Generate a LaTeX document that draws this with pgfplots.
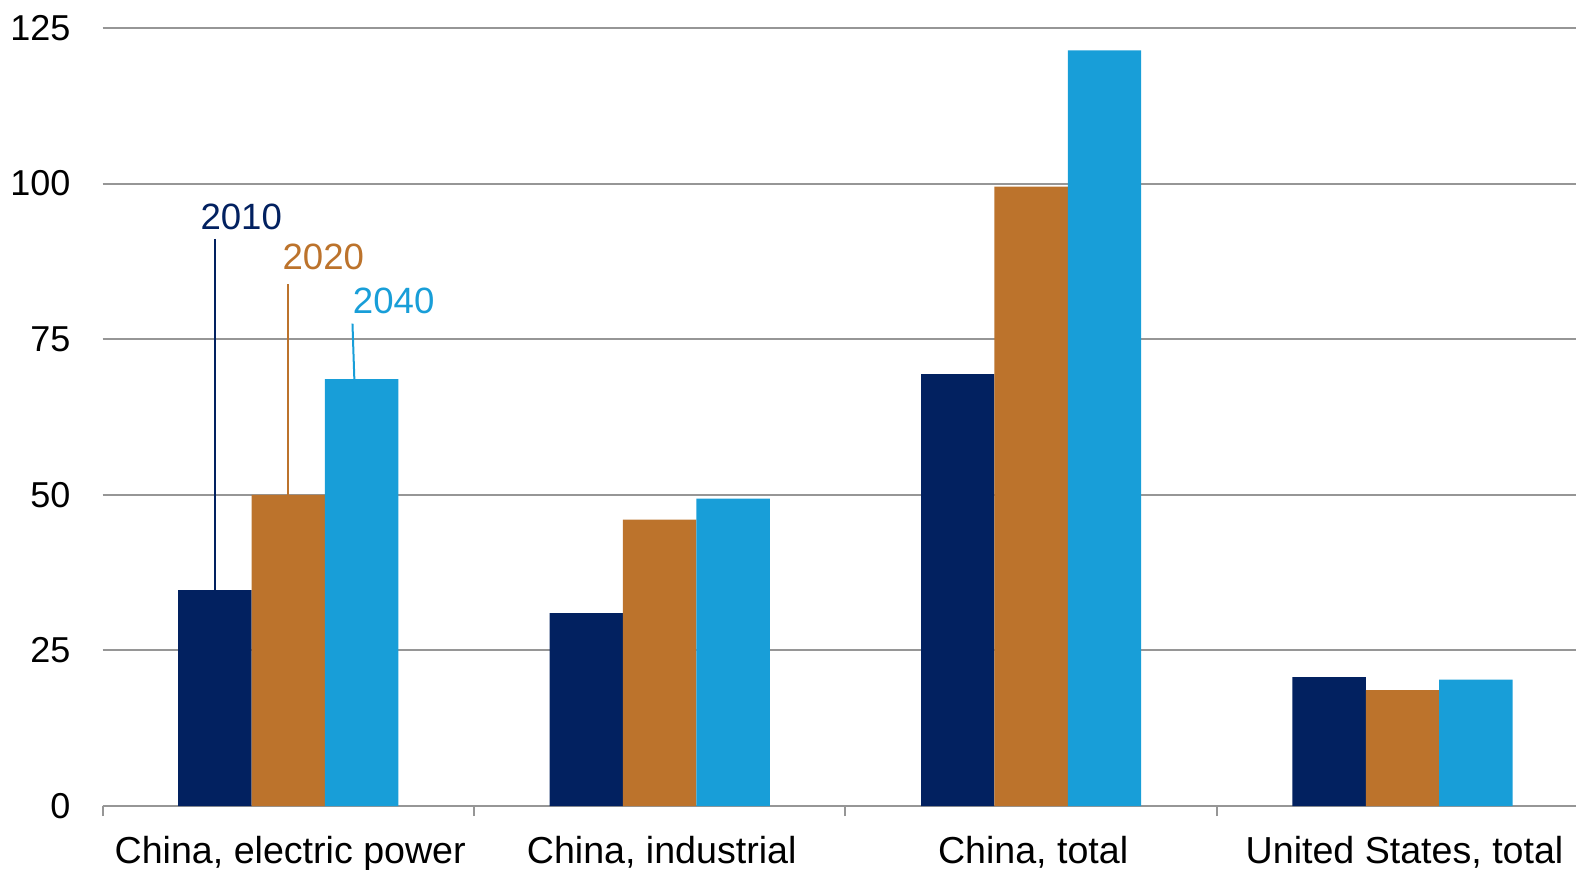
\documentclass[border=0pt]{standalone}
\usepackage{pgfplots}
\pgfplotsset{compat=1.18}
\usepackage{fontspec}
\setmainfont{Liberation Sans}

\definecolor{navy}{RGB}{2,33,96}
\definecolor{rust}{RGB}{188,115,44}
\definecolor{sky}{RGB}{24,158,216}
\definecolor{gridgray}{RGB}{150,150,150}

\newcommand{\lbl}{\fontsize{18.8}{22.5}\selectfont}
\newcommand{\num}{\fontsize{18}{21.6}\selectfont}
\newcommand{\yr}{\fontsize{18.3}{22}\selectfont}

\begin{document}
\begin{tikzpicture}
\begin{axis}[
    at={(51.25pt,31.5pt)}, anchor=south west,
    scale only axis,
    width=736.75pt, height=389pt,
    xmin=-0.5, xmax=3.467,
    ymin=0, ymax=125,
    ytick={0,25,50,75,100,125},
    xtick={0,1,2,3},
    xticklabels={China{,} electric power, China{,} industrial, China{,} total, United States{,} total},
    minor xtick={-0.5,0.5,1.5,2.5},
    tick align=outside,
    major tick length=0pt,
    minor tick length=5pt,
    minor x tick style={gridgray, line width=1pt},
    axis lines*=left,
    x axis line style={gridgray, line width=1pt, -},
    y axis line style={draw=none},
    ymajorgrids,
    major grid style={gridgray, line width=1pt},
    ybar=0pt,
    bar width=36.7pt,
    /pgf/number format/assume math mode=true,
    tick label style={text=black},
    yticklabel style={font=\num, anchor=east, xshift=-12.5pt},
    xticklabel style={font=\lbl, anchor=north, yshift=-11.5pt, xshift=1pt},
]
\addplot[draw=none, fill=navy] coordinates {(0,34.7) (1,31.0) (2,69.4) (3,20.7)};
\addplot[draw=none, fill=rust] coordinates {(0,50.0) (1,46.0) (2,99.5) (3,18.6)};
\addplot[draw=none, fill=sky]  coordinates {(0,68.6) (1,49.4) (2,121.4) (3,20.3)};

% series labels with leader lines to the first group of bars
\draw[navy, line width=1pt] (axis cs:-0.1976,91.1) -- (axis cs:-0.1976,34.7);
\draw[rust, line width=1pt] (axis cs:0,83.8) -- (axis cs:0,50.0);
\draw[sky, line width=1pt] (axis cs:0.173,77.5) -- (axis cs:0.178,68.6);
\node[text=navy, font=\yr, inner sep=0pt] at (axis cs:-0.1265,94.7) {2010};
\node[text=rust, font=\yr, inner sep=0pt] at (axis cs:0.0946,88.2) {2020};
\node[text=sky, font=\yr, inner sep=0pt] at (axis cs:0.284,81.1) {2040};
\end{axis}
\pgfresetboundingbox
\path[use as bounding box] (0,0) rectangle (788pt,434.5pt);
\end{tikzpicture}
\end{document}
